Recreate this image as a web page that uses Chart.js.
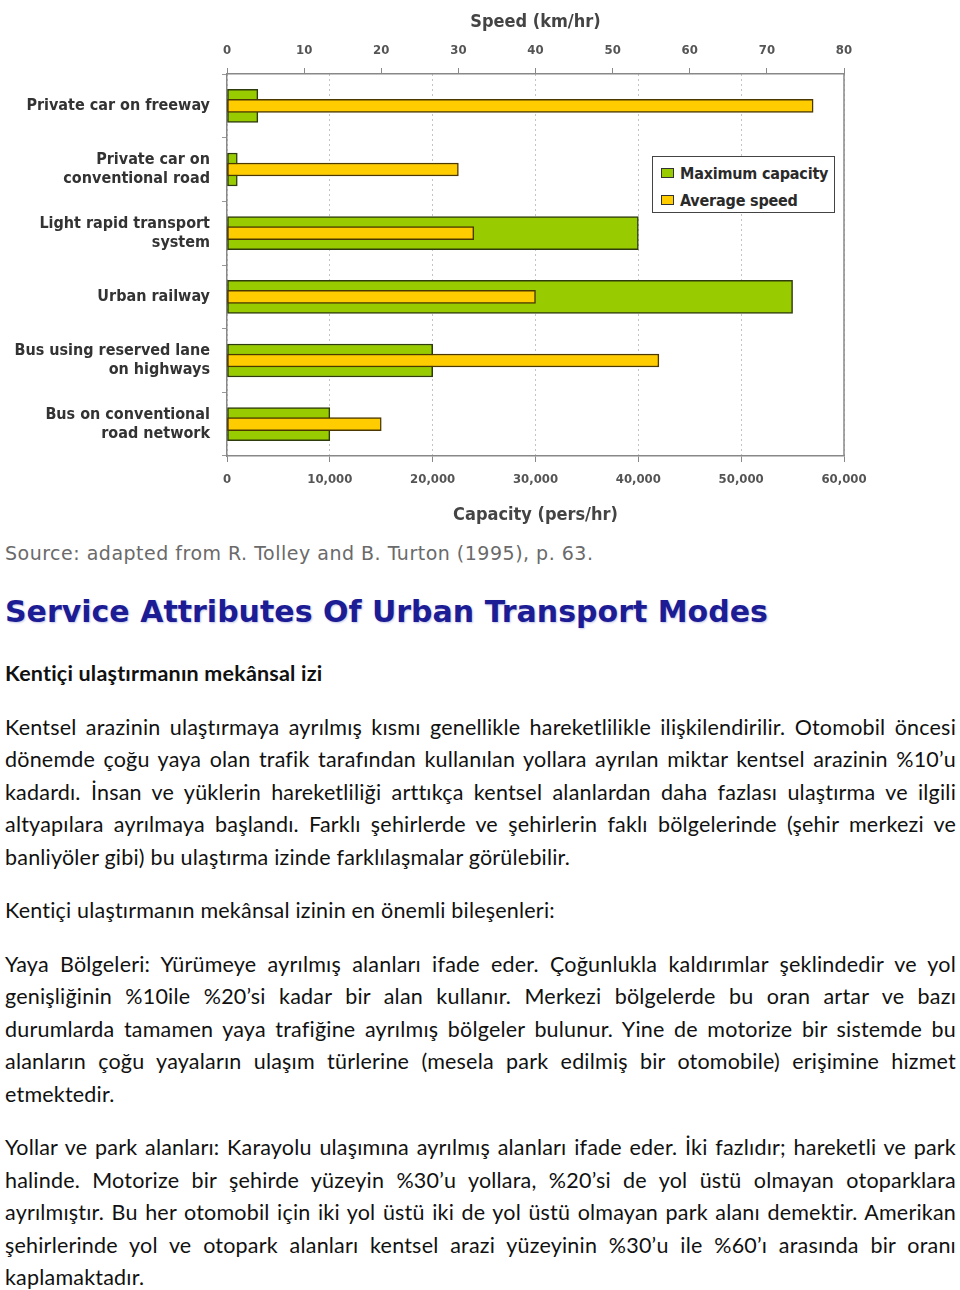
<!DOCTYPE html>
<html lang="tr">
<head>
<meta charset="UTF-8">
<title>Service Attributes Of Urban Transport Modes</title>
<script src="https://cdn.jsdelivr.net/npm/chart.js"></script>
<style>
  body { margin: 0; background: #fff; }
  #chartBox { position: relative; width: 960px; height: 530px; }
  #legend {
    position: absolute; left: 652px; top: 156px; width: 181px; height: 55px;
    border: 1.5px solid #444; background: #fff;
    font: bold 16px "Liberation Sans Narrow", "DejaVu Sans Condensed", sans-serif; color: #2a2a2a;
  }
  #legend div { position: absolute; left: 8px; height: 20px; line-height: 20px; white-space: nowrap; letter-spacing: -0.2px; }
  #legend span.sw { display: inline-block; width: 11px; height: 8px; border: 1.5px solid #333; margin-right: 6px; vertical-align: 1px; }
  #text { width: 951px; padding-left: 5px; }
  .source { margin: 11px 0 0 0; font: 19px/24px "DejaVu Sans", sans-serif; letter-spacing: 0.5px; color: #6a6a6a; }
  .title { margin: 28px 0 0 0; font: bold 30px/38px "DejaVu Sans", sans-serif; color: #1c1c94; text-shadow: 1px 1px 2px #c8c8e8; }
  .body { font-family: Lato, "Open Sans", sans-serif; font-size: 21.5px; letter-spacing: 0.2px; line-height: 32.5px; color: #111; }
  .body h3 { margin: 26px 0 0 0; font-size: 21.5px; line-height: 32.5px; font-weight: bold; }
  .body p { margin: 21px 0 0 0; }
  .body p span { display: block; text-align: justify; text-align-last: justify; }
  .body p span.last { text-align-last: left; }
</style>
</head>
<body>
<div id="chartBox">
  <canvas id="myChart"></canvas>
  <div id="legend"></div>
</div>

<div id="text">
  <div class="source">Source: adapted from R. Tolley and B. Turton (1995), p. 63.</div>
  <div class="title">Service Attributes Of Urban Transport Modes</div>
  <div class="body">
    <h3>Kentiçi ulaştırmanın mekânsal izi</h3>
    <p>
      <span>Kentsel arazinin ulaştırmaya ayrılmış kısmı genellikle hareketlilikle ilişkilendirilir. Otomobil öncesi</span>
      <span>dönemde çoğu yaya olan trafik tarafından kullanılan yollara ayrılan miktar kentsel arazinin %10’u</span>
      <span>kadardı. İnsan ve yüklerin hareketliliği arttıkça kentsel alanlardan daha fazlası ulaştırma ve ilgili</span>
      <span>altyapılara ayrılmaya başlandı. Farklı şehirlerde ve şehirlerin faklı bölgelerinde (şehir merkezi ve</span>
      <span class="last">banliyöler gibi) bu ulaştırma izinde farklılaşmalar görülebilir.</span>
    </p>
    <p><span class="last">Kentiçi ulaştırmanın mekânsal izinin en önemli bileşenleri:</span></p>
    <p>
      <span>Yaya Bölgeleri: Yürümeye ayrılmış alanları ifade eder. Çoğunlukla kaldırımlar şeklindedir ve yol</span>
      <span>genişliğinin %10ile %20’si kadar bir alan kullanır. Merkezi bölgelerde bu oran artar ve bazı</span>
      <span>durumlarda tamamen yaya trafiğine ayrılmış bölgeler bulunur. Yine de motorize bir sistemde bu</span>
      <span>alanların çoğu yayaların ulaşım türlerine (mesela park edilmiş bir otomobile) erişimine hizmet</span>
      <span class="last">etmektedir.</span>
    </p>
    <p>
      <span>Yollar ve park alanları: Karayolu ulaşımına ayrılmış alanları ifade eder. İki fazlıdır; hareketli ve park</span>
      <span>halinde. Motorize bir şehirde yüzeyin %30’u yollara, %20’si de yol üstü olmayan otoparklara</span>
      <span>ayrılmıştır. Bu her otomobil için iki yol üstü iki de yol üstü olmayan park alanı demektir. Amerikan</span>
      <span>şehirlerinde yol ve otopark alanları kentsel arazi yüzeyinin %30’u ile %60’ı arasında bir oranı</span>
      <span class="last">kaplamaktadır.</span>
    </p>
  </div>
</div>

<script>
  // values
  var modes = [
    ['Private car on freeway'],
    ['Private car on', 'conventional road'],
    ['Light rapid transport', 'system'],
    ['Urban railway'],
    ['Bus using reserved lane', 'on highways'],
    ['Bus on conventional', 'road network']
  ];
  var maxCapacity = [3000, 1000, 40000, 55000, 20000, 10000];   // pers/hr
  var avgSpeed = [76, 30, 32, 40, 56, 20];                      // km/hr
  var capacityTicks = [0, 10000, 20000, 30000, 40000, 50000, 60000];
  var speedTicks = [0, 10, 20, 30, 40, 50, 60, 70, 80];

  var narrow = '"Liberation Sans Narrow", "DejaVu Sans Condensed", sans-serif';
  var tickFont = { family: narrow, size: 13, weight: 'bold' };
  var titleFont = { family: narrow, size: 18, weight: 'bold' };

  // right border of the plot
  var plotBorder = {
    id: 'plotBorder',
    afterDraw: function (chart) {
      var a = chart.chartArea, c = chart.ctx;
      c.save();
      c.strokeStyle = '#888';
      c.lineWidth = 1.5;
      c.beginPath();
      c.moveTo(a.right, a.top);
      c.lineTo(a.right, a.bottom);
      c.stroke();
      c.restore();
    }
  };

  var data = {
    labels: modes,
    datasets: [{
      label: 'Maximum capacity',
      data: maxCapacity,
      xAxisID: 'x',
      backgroundColor: '#99cc00',
      borderColor: '#2e3b0c',
      borderWidth: 1.5,
      borderSkipped: false,
      barThickness: 33,
      grouped: false,
      order: 2
    }, {
      label: 'Average speed',
      data: avgSpeed,
      xAxisID: 'x2',
      backgroundColor: '#ffcc00',
      borderColor: '#4a3800',
      borderWidth: 1.5,
      borderSkipped: false,
      barThickness: 13,
      grouped: false,
      order: 1
    }]
  };

  var options = {
    indexAxis: 'y',
    responsive: true,
    maintainAspectRatio: false,
    animation: false,
    layout: { padding: { left: 0, top: 0, right: 116, bottom: 0 } },
    plugins: { legend: { display: false }, tooltip: { enabled: false } },
    scales: {
      y: {
        type: 'category',
        grid: { offset: true, drawOnChartArea: false, tickLength: 5, color: '#999' },
        border: { color: '#888', width: 1.5 },
        ticks: { font: { family: narrow, size: 16, weight: 'bold' }, color: '#333', padding: 12 },
        afterFit: function (s) { s.width = 227; }
      },
      x: {
        type: 'linear',
        position: 'bottom',
        min: 0, max: 60000,
        afterBuildTicks: function (s) { s.ticks = capacityTicks.map(function (v) { return { value: v }; }); },
        grid: { color: '#c4c4c4', tickLength: 6, tickColor: '#888' },
        border: { color: '#888', width: 1.5, dash: [2, 3] },
        ticks: { font: tickFont, color: '#555', padding: 10 },
        title: { display: true, text: 'Capacity (pers/hr)', font: titleFont, color: '#444', padding: { top: 0, bottom: 4 } },
        afterFit: function (s) { s.height = 74; }
      },
      x2: {
        type: 'linear',
        position: 'top',
        min: 0, max: 80,
        afterBuildTicks: function (s) { s.ticks = speedTicks.map(function (v) { return { value: v }; }); },
        grid: { drawOnChartArea: false, tickLength: 6, color: '#888' },
        border: { color: '#888', width: 1.5 },
        ticks: { font: tickFont, color: '#555', padding: 10 },
        title: { display: true, text: 'Speed (km/hr)', font: titleFont, color: '#444', padding: { top: 12, bottom: 0 } },
        afterFit: function (s) { s.height = 74; }
      }
    }
  };

  var ctx = document.getElementById('myChart').getContext('2d');
  var myChart = new Chart(ctx, { type: 'bar', data: data, options: options, plugins: [plotBorder] });

  // legend box drawn from the datasets
  var legend = document.getElementById('legend');
  myChart.data.datasets.forEach(function (ds, i) {
    var row = document.createElement('div');
    row.style.top = (7 + i * 27) + 'px';
    var sw = document.createElement('span');
    sw.className = 'sw';
    sw.style.background = ds.backgroundColor;
    row.appendChild(sw);
    row.appendChild(document.createTextNode(ds.label));
    legend.appendChild(row);
  });
</script>
</body>
</html>
